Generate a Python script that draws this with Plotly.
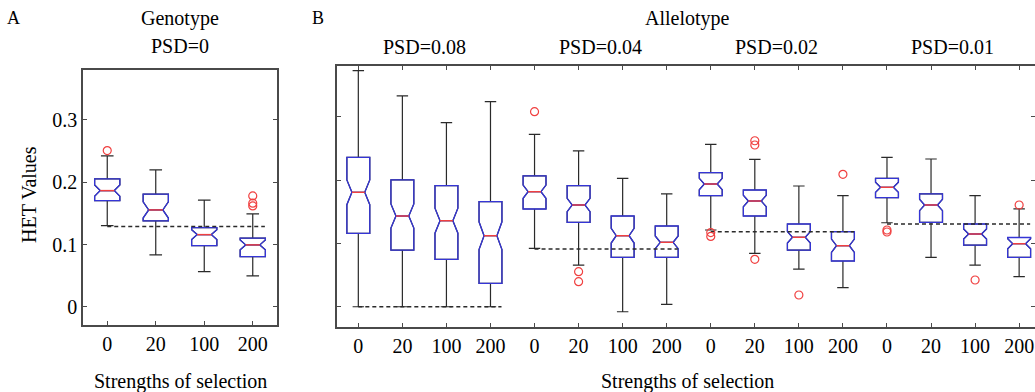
import plotly.graph_objects as go

# ---------------- data ----------------
strength_labels = ["0", "20", "100", "200"]

# Panel A (Genotype, PSD=0)
A_q1 = [0.1705, 0.138, 0.0983, 0.0807]
A_med = [0.1866, 0.1556, 0.116, 0.0995]
A_q3 = [0.2054, 0.1808, 0.1272, 0.1102]
A_lo = [0.1304, 0.0834, 0.0566, 0.0497]
A_hi = [0.2423, 0.2198, 0.1712, 0.1492]
A_notch = [0.009, 0.013, 0.008, 0.008]
A_out_idx = [0, 3, 3, 3]
A_out_val = [0.2508, 0.1781, 0.1664, 0.162]
A_ref = 0.1288

# Panel B (Allelotype)
psd_labels = ["PSD=0.08", "PSD=0.04", "PSD=0.02", "PSD=0.01"]
B_q1 = [0.1159, 0.0895, 0.0748, 0.0369, 0.1543, 0.1333, 0.078, 0.078,
        0.1753, 0.1432, 0.0895, 0.0722, 0.1721, 0.1333, 0.0974, 0.078]
B_med = [0.1806, 0.1432, 0.1358, 0.1121, 0.1816, 0.1606, 0.1121, 0.1017,
         0.1937, 0.1669, 0.1096, 0.0963, 0.1885, 0.1606, 0.1148, 0.0995]
B_q3 = [0.2359, 0.2001, 0.1911, 0.1658, 0.2064, 0.1911, 0.1432, 0.1274,
        0.2116, 0.1843, 0.1306, 0.1184, 0.2027, 0.178, 0.1306, 0.1093]
B_lo = [0.0, 0.0, 0.0, 0.0, 0.0922, 0.0658, -0.0079, 0.0038,
        0.1211, 0.0843, 0.0595, 0.030, 0.1326, 0.078, 0.0658, 0.0474]
B_hi = [0.3727, 0.3327, 0.2906, 0.3237, 0.2722, 0.2459, 0.2027, 0.178,
        0.2564, 0.2327, 0.1906, 0.1753, 0.2359, 0.2332, 0.1753, 0.1545]
B_notch = [0.0195, 0.019, 0.0197, 0.022, 0.0105, 0.0105, 0.0116, 0.010,
           0.009, 0.009, 0.009, 0.0105, 0.008, 0.009, 0.008, 0.008]
B_out_idx = [4, 5, 5, 8, 8, 9, 9, 9, 10, 11, 12, 12, 14, 15]
B_out_val = [0.3079, 0.0553, 0.0395, 0.117, 0.111, 0.262, 0.2553, 0.0748,
             0.0185, 0.209, 0.1211, 0.118, 0.0422, 0.1606]
B_ref = [0.0, 0.0911, 0.1184, 0.1306]

# ---------------- style ----------------
W, H = 1035, 392
FONT = "Liberation Serif"
FS = 20
BOX_W = 0.52
NOTCH_W = 0.22
BLUE = "#3535d6"
RED = "#f04040"
BLACK = "#2a2a2a"
AXC = "#4a4a4a"
REF_LEN = 3.25


def px(x):
    return x / W


def py(y):
    return 1 - y / H


fig = go.Figure()


def add_panel(xs, q1, med, q3, lo, hi, notch, xa, ya, out_x, out_y, refs, ref_x0):
    # whiskers + box (black)
    fig.add_trace(go.Box(
        x=xs, q1=q1, median=med, q3=q3, lowerfence=lo, upperfence=hi,
        notched=True, notchspan=notch, notchwidth=NOTCH_W, width=BOX_W,
        whiskerwidth=0.5, line=dict(color=BLACK, width=1.2),
        fillcolor="rgba(0,0,0,0)", xaxis=xa, yaxis=ya, showlegend=False,
        hoverinfo="skip"))
    # box only (blue)
    fig.add_trace(go.Box(
        x=xs, q1=q1, median=med, q3=q3, lowerfence=q1, upperfence=q3,
        notched=True, notchspan=notch, notchwidth=NOTCH_W, width=BOX_W,
        whiskerwidth=0, line=dict(color=BLUE, width=1.3),
        fillcolor="rgba(0,0,0,0)", xaxis=xa, yaxis=ya, showlegend=False,
        hoverinfo="skip"))
    # red medians
    hw = BOX_W / 2 * (1 - 2 * NOTCH_W)
    mx, my = [], []
    for x, m in zip(xs, med):
        mx += [x - hw, x + hw, None]
        my += [m, m, None]
    fig.add_trace(go.Scatter(x=mx, y=my, mode="lines",
                             line=dict(color=RED, width=1.4),
                             xaxis=xa, yaxis=ya, showlegend=False, hoverinfo="skip"))
    # dashed reference lines
    rx, ry = [], []
    for x0, r in zip(ref_x0, refs):
        rx += [x0, x0 + REF_LEN, None]
        ry += [r, r, None]
    fig.add_trace(go.Scatter(x=rx, y=ry, mode="lines",
                             line=dict(color=BLACK, width=1.5, dash="4px,3px"),
                             xaxis=xa, yaxis=ya, showlegend=False, hoverinfo="skip"))
    # outliers
    fig.add_trace(go.Scatter(x=out_x, y=out_y, mode="markers",
                             marker=dict(symbol="circle-open", size=8,
                                         color=RED, line=dict(width=1.2, color=RED)),
                             xaxis=xa, yaxis=ya, showlegend=False, hoverinfo="skip"))


A_x = list(range(len(strength_labels)))
add_panel(A_x, A_q1, A_med, A_q3, A_lo, A_hi, A_notch, "x", "y",
          A_out_idx, A_out_val, [A_ref], [0])

B_x = list(range(len(B_med)))
add_panel(B_x, B_q1, B_med, B_q3, B_lo, B_hi, B_notch, "x2", "y2",
          B_out_idx, B_out_val, B_ref, [4 * g for g in range(len(B_ref))])

tickfont = dict(family=FONT, size=FS, color="black")
common_ax = dict(showgrid=False, zeroline=False, showline=True, linecolor=AXC,
                 linewidth=1.5, ticks="inside", ticklen=4, tickwidth=1,
                 tickcolor=AXC, tickfont=tickfont)

fig.update_layout(
    width=W, height=H, margin=dict(l=0, r=0, t=0, b=0),
    paper_bgcolor="white", plot_bgcolor="white", boxmode="overlay",
    xaxis=dict(domain=[px(83), px(277)], range=[-0.5, 3.5],
               tickvals=A_x, ticktext=strength_labels, mirror=True,
               anchor="y", **common_ax),
    yaxis=dict(domain=[py(325), py(70)], range=[-0.029, 0.380],
               tickvals=[0, 0.1, 0.2, 0.3], ticktext=["0", "0.1", "0.2", "0.3"],
               mirror="ticks", anchor="x", **common_ax),
    xaxis2=dict(domain=[px(337), 1.0], range=[-0.484, 15.36],
                tickvals=B_x, ticktext=strength_labels * 4, mirror="ticks",
                anchor="y2", **common_ax),
    yaxis2=dict(domain=[py(327), py(66)], range=[-0.032, 0.380],
                tickvals=[0, 0.1, 0.2, 0.3], showticklabels=False,
                mirror=False, anchor="x2", **common_ax),
    yaxis3=dict(overlaying="y2", anchor="free", position=1.0, side="right",
                range=[-0.032, 0.380], tickvals=[0, 0.1, 0.2, 0.3],
                showticklabels=False, showline=False, showgrid=False,
                zeroline=False, ticks="inside", ticklen=4, tickwidth=1,
                tickcolor=AXC),
)

# invisible trace to activate yaxis3
fig.add_trace(go.Scatter(x=[None], y=[None], xaxis="x2", yaxis="y3",
                         showlegend=False, hoverinfo="skip"))

ann = []


def text(x, y, s, size=FS, angle=0):
    ann.append(dict(x=px(x), y=py(y), xref="paper", yref="paper", text=s,
                    showarrow=False, xanchor="center", yanchor="middle",
                    textangle=angle, font=dict(family=FONT, size=size, color="black")))


text(13, 18, "A", 18)
text(180, 19, "Genotype")
text(180, 46, "PSD=0")
text(29, 195, "HET Values", angle=-90)
text(180, 381, "Strengths of selection")
text(318, 18, "B", 18)
text(687, 19, "Allelotype")
for g, lab in enumerate(psd_labels):
    text(358.3 + 44 * (4 * g + 1.5), 47, lab)
text(687, 381, "Strengths of selection")
fig.update_layout(annotations=ann)

fig.write_html("out.html",
               config={"displayModeBar": False},
               post_script="document.body.style.margin='0';document.body.style.overflow='hidden';")
